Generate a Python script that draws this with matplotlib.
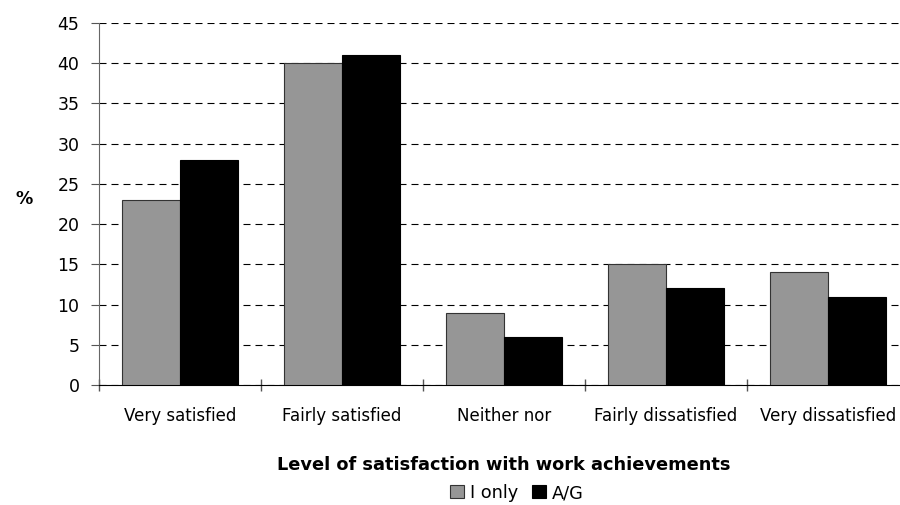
import matplotlib.pyplot as plt
import numpy as np

categories = ["Very satisfied", "Fairly satisfied", "Neither nor",
              "Fairly dissatisfied", "Very dissatisfied"]
i_only = [23, 40, 9, 15, 14]
a_g = [28, 41, 6, 12, 11]

plt.rcParams['font.family'] = ['DejaVu Sans']

fig = plt.figure(figsize=(9, 5.05), dpi=100)
ax = fig.add_axes([0.11, 0.2376, 0.90, 0.7169])

x = np.arange(len(categories))
w = 0.358
ax.bar(x - w / 2, i_only, w, color="#969696", edgecolor="#333333", linewidth=0.8,
       label="I only", zorder=3)
ax.bar(x + w / 2, a_g, w, color="black", edgecolor="black", linewidth=0.8,
       label="A/G", zorder=3)

ax.set_xlim(-0.5, len(categories) - 0.5)
ax.set_ylim(0, 45)
ax.set_yticks(range(0, 46, 5))
ax.yaxis.grid(True, linestyle=(0, (6.3, 4.5)), color="black", linewidth=0.8, zorder=0)

ax.set_xticks(x)
ax.set_xticklabels(categories, fontsize=12)
ax.tick_params(axis="x", length=0, pad=16)
ax.set_xticks(np.arange(-0.5, len(categories), 1), minor=True)
ax.tick_params(axis="x", which="minor", direction="inout", length=9, width=1,
               color="#555555")
ax.tick_params(axis="y", direction="out", length=6, labelsize=12.5, color="#555555",
               pad=8)

for s in ["top", "right"]:
    ax.spines[s].set_visible(False)
ax.spines["left"].set_color("#666666")
ax.spines["bottom"].set_color("black")

ax.set_xlabel("Level of satisfaction with work achievements", fontsize=12.8,
              fontweight="bold")
ax.xaxis.set_label_coords(0.5, -0.195)
ax.set_ylabel("%", fontsize=12.5, fontweight="bold", rotation=0)
ax.yaxis.set_label_coords(-0.093, 0.49)

fig.legend(loc="center", bbox_to_anchor=(517 / 900, 1 - 493 / 505), ncol=2,
           frameon=False, fontsize=12.8, handlelength=0.75, handleheight=0.75,
           handletextpad=0.35, columnspacing=0.8, borderpad=0)

fig.savefig("out.png", dpi=100)
